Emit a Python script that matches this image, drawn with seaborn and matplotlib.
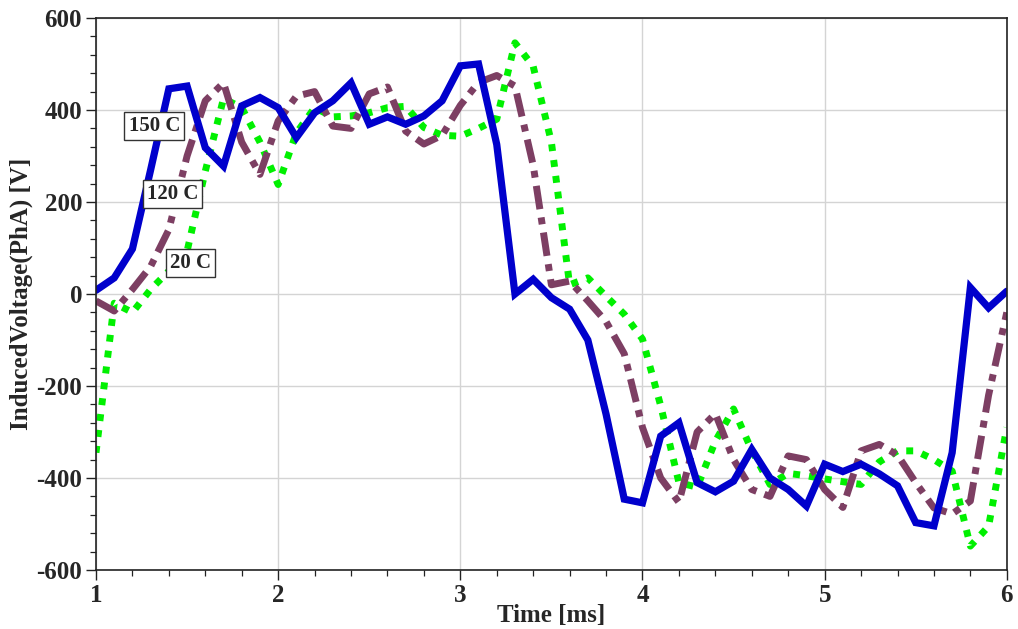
import numpy as np
import pandas as pd
import matplotlib
matplotlib.use("Agg")
import matplotlib.pyplot as plt
import seaborn as sns
from matplotlib.ticker import MultipleLocator

# Time axis (ms), sampled every 0.1 ms
time_ms = [round(1.0 + 0.1 * i, 1) for i in range(51)]

# Induced phase-A voltage [V] at three winding temperatures
v_150c = [8, 35, 98, 270, 446, 452, 318, 278, 409, 427,
          405, 340, 394, 420, 459, 369, 385, 369, 387, 420,
          496, 500, 325, 0, 32, -8, -33, -100, -261, -446,
          -454, -309, -280, -410, -430, -407, -338, -400, -425, -461,
          -370, -386, -370, -391, -417, -497, -504, -345, 14, -30,
          6]
v_120c = [-15, -37, 10, 60, 140, 300, 420, 459, 330, 260,
          376, 430, 440, 365, 360, 435, 450, 354, 326, 345,
          410, 460, 475, 452, 280, 20, 28, -15, -60, -130,
          -290, -400, -453, -300, -260, -360, -425, -440, -352, -360,
          -425, -464, -341, -327, -350, -410, -465, -478, -450, -220,
          -40]
v_20c = [-345, -20, -40, 10, 50, 93, 267, 425, 405, 330,
         238, 350, 405, 385, 387, 394, 405, 408, 362, 345,
         343, 360, 380, 546, 495, 330, 20, 35, -5, -44,
         -98, -243, -410, -420, -320, -250, -340, -414, -390, -395,
         -402, -408, -414, -365, -341, -341, -360, -385, -548, -505,
         -290]

series_names = ["150 C", "120 C", "20 C"]
series_values = [v_150c, v_120c, v_20c]

x_ticks = [1, 2, 3, 4, 5, 6]
y_ticks = [-600, -400, -200, 0, 200, 400, 600]

sns.set_theme(style="whitegrid")
plt.rcParams["font.family"] = ["Liberation Serif", "DejaVu Serif"]
plt.rcParams["axes.unicode_minus"] = False

fig = plt.figure(figsize=(10.18, 6.29), dpi=100)
ax = fig.add_axes([0.0943, 0.0938, 0.8947, 0.8776])

styles = {
    "150 C": dict(color="#0000CC", linestyle="-", linewidth=5.2),
    "120 C": dict(color="#7D3F63", linestyle=(0, (3.4, 1.2, 1.0, 1.2)), linewidth=5.0),
    "20 C": dict(color="#00F000", linestyle=(0, (1.0, 1.3)), linewidth=5.0),
}

frames = []
for name, vals in zip(series_names, series_values):
    frames.append(pd.DataFrame({"t": time_ms, "v": vals, "temp": name}))
df = pd.concat(frames, ignore_index=True)

# Draw back to front so the solid trace sits on top
for name in ["20 C", "120 C", "150 C"]:
    sub = df[df["temp"] == name]
    st = styles[name]
    sns.lineplot(data=sub, x="t", y="v", ax=ax, color=st["color"],
                 linewidth=st["linewidth"], estimator=None, sort=False,
                 legend=False)
    line = ax.get_lines()[-1]
    line.set_linestyle(st["linestyle"])
    line.set_dash_capstyle("butt")
    line.set_solid_joinstyle("miter")

ax.set_xlim(1, 6)
ax.set_ylim(-600, 600)
ax.set_xticks(x_ticks)
ax.set_yticks(y_ticks)
ax.xaxis.set_minor_locator(MultipleLocator(0.2))
ax.yaxis.set_minor_locator(MultipleLocator(40))
ax.grid(True, which="major", color="#d4d4d4", linewidth=1.0)
ax.grid(False, which="minor")

for s in ax.spines.values():
    s.set_visible(True)
    s.set_color("#222222")
    s.set_linewidth(1.2)

ax.tick_params(axis="both", which="major", direction="out", length=7,
               width=1.0, color="#222222", labelsize=18, pad=3)
ax.tick_params(axis="both", which="minor", direction="out", length=4,
               width=0.9, color="#222222")
ax.tick_params(axis="x", which="both", bottom=True)
ax.tick_params(axis="y", which="both", left=True)
for lbl in ax.get_xticklabels() + ax.get_yticklabels():
    lbl.set_fontweight("bold")

ax.set_xlabel("Time [ms]", fontsize=18, fontweight="bold", labelpad=-2)
ax.set_ylabel("InducedVoltage(PhA) [V]", fontsize=18, fontweight="bold", labelpad=2)

# Boxed temperature labels next to the rising edges
label_pos = {"150 C": (1.32, 365), "120 C": (1.42, 217), "20 C": (1.52, 67)}
for name in series_names:
    x, y = label_pos[name]
    ax.text(x, y, name, fontsize=15, fontweight="bold", ha="center", va="center",
            zorder=5,
            bbox=dict(boxstyle="square,pad=0.2", facecolor="white",
                      edgecolor="#333333", linewidth=1.0))

fig.savefig("out.png", dpi=100)
